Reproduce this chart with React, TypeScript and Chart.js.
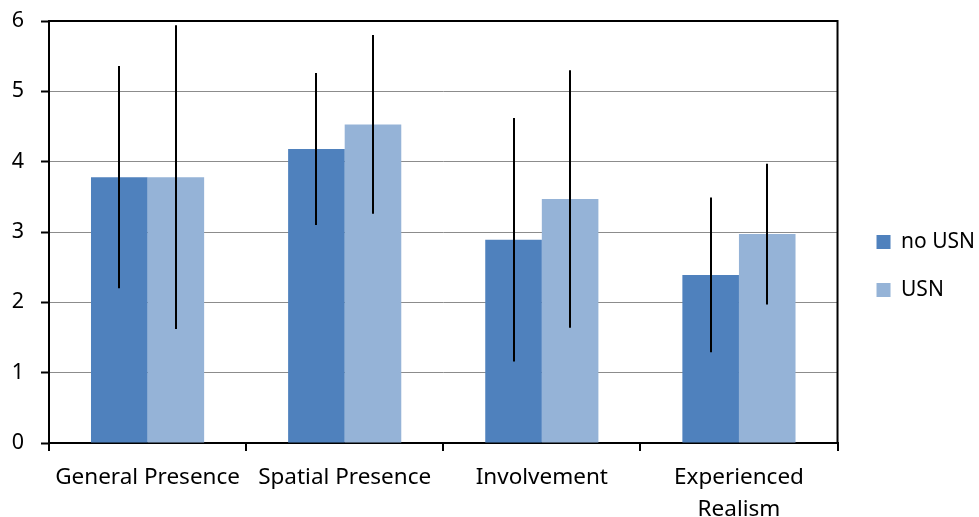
import React, { useEffect, useRef } from "react";
import { Chart, registerables } from "chart.js";

Chart.register(...registerables);

const categories: (string | string[])[] = [
  "General Presence",
  "Spatial Presence",
  "Involvement",
  ["Experienced", "Realism"],
];
const noUsnValues = [3.78, 4.18, 2.89, 2.39];
const noUsnErrors = [1.58, 1.08, 1.73, 1.1];
const usnValues = [3.78, 4.53, 3.47, 2.97];
const usnErrors = [2.16, 1.27, 1.83, 1.0];
const yTicks = [0, 1, 2, 3, 4, 5, 6];

const FONT = "'Noto Sans', sans-serif";

const errorBarPlugin = {
  id: "errorBars",
  afterDatasetsDraw(chart: any) {
    const ctx = chart.ctx;
    const yScale = chart.scales.y;
    chart.data.datasets.forEach((ds: any, i: number) => {
      const meta = chart.getDatasetMeta(i);
      const errs: number[] = ds.errors || [];
      meta.data.forEach((el: any, j: number) => {
        const v = ds.data[j];
        const e = errs[j];
        const top = yScale.getPixelForValue(v + e);
        const bot = yScale.getPixelForValue(v - e);
        ctx.save();
        ctx.strokeStyle = "#000";
        ctx.lineWidth = 2;
        ctx.beginPath();
        ctx.moveTo(Math.round(el.x), top);
        ctx.lineTo(Math.round(el.x), bot);
        ctx.stroke();
        ctx.restore();
      });
    });
  },
};

const framePlugin = {
  id: "frame",
  afterDraw(chart: any) {
    const { ctx, chartArea } = chart;
    ctx.save();
    ctx.strokeStyle = "#000";
    ctx.lineWidth = 2;
    ctx.beginPath();
    ctx.moveTo(chartArea.left, chartArea.top);
    ctx.lineTo(chartArea.right, chartArea.top);
    ctx.lineTo(chartArea.right, chartArea.bottom);
    ctx.stroke();
    ctx.restore();
  },
};

export default function App() {
  const ref = useRef<HTMLCanvasElement | null>(null);
  useEffect(() => {
    if (!ref.current) return;
    const chart = new Chart(ref.current, {
      type: "bar",
      data: {
        labels: categories,
        datasets: [
          {
            label: "no USN",
            data: noUsnValues,
            errors: noUsnErrors,
            backgroundColor: "#4F81BD",
            borderWidth: 0,
            categoryPercentage: 0.574,
            barPercentage: 1,
          } as any,
          {
            label: "USN",
            data: usnValues,
            errors: usnErrors,
            backgroundColor: "#95B3D7",
            borderWidth: 0,
            categoryPercentage: 0.574,
            barPercentage: 1,
          } as any,
        ],
      },
      options: {
        animation: false,
        responsive: true,
        maintainAspectRatio: false,
        layout: { padding: { left: 0, top: 15, right: -6, bottom: 0 } },
        plugins: {
          tooltip: { enabled: false },
          legend: {
            position: "right",
            labels: {
              boxWidth: 14,
              boxHeight: 14,
              padding: 27,
              color: "#000",
              font: { family: FONT, size: 21 },
            },
          },
        },
        scales: {
          x: {
            afterFit: (s: any) => {
              s.height = 74;
            },
            grid: {
              offset: true,
              drawOnChartArea: false,
              drawTicks: true,
              tickLength: 8,
              color: "#000",
              lineWidth: 2,
            },
            border: { color: "#000", width: 2 },
            ticks: {
              color: "#000",
              font: { family: FONT, size: 22.5, lineHeight: 1.4 },
              padding: 11,
              maxRotation: 0,
              autoSkip: false,
            },
          },
          y: {
            min: 0,
            max: 6,
            afterBuildTicks: (axis: any) => {
              axis.ticks = yTicks.map((v) => ({ value: v }));
            },
            afterFit: (s: any) => {
              s.width = 49;
              s.paddingTop = 21;
              s.paddingBottom = 0;
            },
            grid: {
              color: "#8c8c8c",
              lineWidth: 1,
              tickLength: 8,
              tickColor: "#000",
              tickWidth: 2,
            },
            border: { color: "#000", width: 2 },
            ticks: {
              color: "#000",
              font: { family: FONT, size: 21.5 },
              padding: 17,
            },
          },
          y2: {
            position: "right",
            display: true,
            min: 0,
            max: 6,
            afterFit: (s: any) => {
              s.width = 12;
              s.paddingTop = 0;
              s.paddingBottom = 0;
            },
            grid: { display: false, drawTicks: false },
            border: { display: false },
            ticks: { display: false },
          },
        },
      },
      plugins: [errorBarPlugin, framePlugin],
    });
    return () => chart.destroy();
  }, []);
  return (
    <div style={{ position: "absolute", left: 0, top: 0, width: 979, height: 517, background: "#fff" }}>
      <canvas ref={ref} />
    </div>
  );
}
